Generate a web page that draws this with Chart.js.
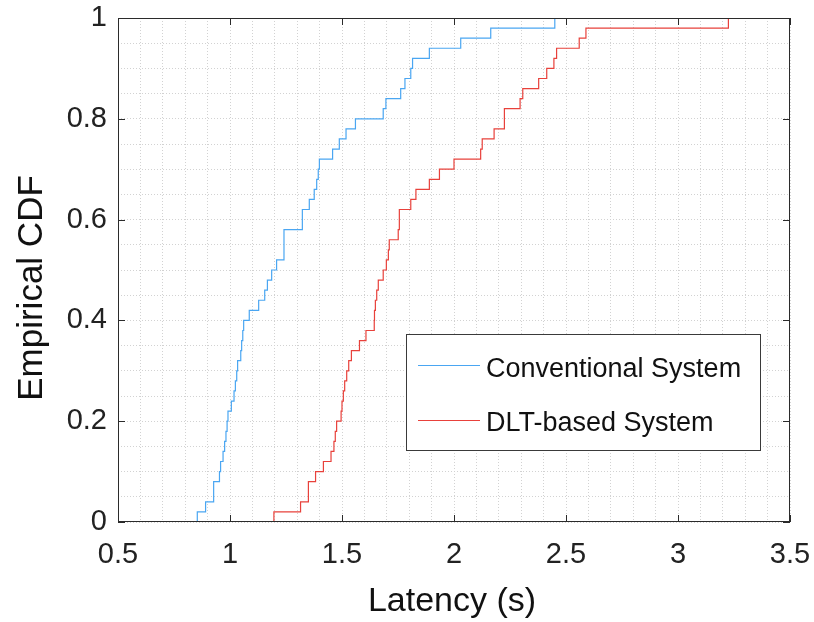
<!DOCTYPE html>
<html>
<head>
<meta charset="utf-8">
<script src="https://cdn.jsdelivr.net/npm/chart.js@4.4.1/dist/chart.umd.min.js"></script>
<style>
  html, body { margin: 0; padding: 0; background: #fff; }
  #wrap { width: 814px; height: 622px; position: relative; }
</style>
</head>
<body>
<div id="wrap"><canvas id="cdf"></canvas></div>
<script>
// ===================== Data =====================
const seriesNames = ["Conventional System", "DLT-based System"];

// CDF level reached at each step (first entry is the start at 0)
const cdfLevels = [
  0, 0.02, 0.04, 0.06, 0.08, 0.1, 0.12, 0.14, 0.16, 0.18, 0.2,
  0.22, 0.24, 0.26, 0.28, 0.3, 0.32, 0.34, 0.36, 0.38, 0.4,
  0.42, 0.44, 0.46, 0.48, 0.5, 0.52, 0.54, 0.56, 0.58, 0.6,
  0.62, 0.64, 0.66, 0.68, 0.7, 0.72, 0.74, 0.76, 0.78, 0.8,
  0.82, 0.84, 0.86, 0.88, 0.9, 0.92, 0.94, 0.96, 0.98, 1
];

// latency (s) where each step happens
const conventionalLatency = [
  0.854, 0.854, 0.891, 0.927, 0.927, 0.953, 0.958, 0.969, 0.976, 0.982, 0.987,
  0.991, 1.006, 1.018, 1.024, 1.030, 1.034, 1.048, 1.052, 1.057, 1.061,
  1.086, 1.128, 1.155, 1.167, 1.186, 1.208, 1.241, 1.241, 1.241, 1.323,
  1.323, 1.354, 1.376, 1.387, 1.394, 1.399, 1.458, 1.488, 1.518, 1.560,
  1.684, 1.696, 1.762, 1.781, 1.807, 1.815, 1.890, 2.030, 2.164, 2.450
];

const dltLatency = [
  1.196, 1.196, 1.315, 1.350, 1.350, 1.382, 1.417, 1.451, 1.464, 1.470, 1.476,
  1.496, 1.500, 1.506, 1.512, 1.521, 1.530, 1.542, 1.578, 1.607, 1.644,
  1.645, 1.649, 1.655, 1.662, 1.684, 1.698, 1.707, 1.711, 1.751, 1.756,
  1.756, 1.807, 1.830, 1.890, 1.935, 2.000, 2.119, 2.126, 2.179, 2.225,
  2.225, 2.295, 2.307, 2.378, 2.414, 2.446, 2.458, 2.559, 2.589, 3.225
];

const xTickLabels = ["0.5", "1", "1.5", "2", "2.5", "3", "3.5"];
const yTickLabels = ["0", "0.2", "0.4", "0.6", "0.8", "1"];

const xTitle = "Latency (s)";
const yTitle = "Empirical CDF";

// ===================== Styling =====================
const FONT = "'Liberation Sans', Arial, Helvetica, sans-serif";
const BLUE = "#4aa6f2";
const RED = "#e8413b";
const AXIS = "#2b2b2b";

const toPoints = (xs) => xs.map((x, i) => ({ x: x, y: cdfLevels[i] }));

const tickText = (list) => (value) => {
  const s = String(+Number(value).toFixed(2));
  return list.includes(s) ? s : "";
};

// box, inward ticks, titles and legend (matlab look)
const matlabFrame = {
  id: "matlabFrame",
  afterDraw(chart) {
    const { ctx, chartArea: a, scales } = chart;
    ctx.save();

    // box
    ctx.strokeStyle = AXIS;
    ctx.lineWidth = 1;
    ctx.strokeRect(a.left + 0.5, a.top + 0.5, a.right - a.left - 1, a.bottom - a.top - 1);

    // inward major ticks
    const len = 7;
    ctx.beginPath();
    xTickLabels.forEach((t) => {
      const px = Math.round(scales.x.getPixelForValue(+t)) + 0.5;
      ctx.moveTo(px, a.bottom);
      ctx.lineTo(px, a.bottom - len);
      ctx.moveTo(px, a.top);
      ctx.lineTo(px, a.top + len);
    });
    yTickLabels.forEach((t) => {
      const py = Math.round(scales.y.getPixelForValue(+t)) + 0.5;
      ctx.moveTo(a.left, py);
      ctx.lineTo(a.left + len, py);
      ctx.moveTo(a.right, py);
      ctx.lineTo(a.right - len, py);
    });
    ctx.stroke();

    // axis titles
    ctx.fillStyle = "#111";
    ctx.textAlign = "center";
    ctx.textBaseline = "alphabetic";
    ctx.font = "34px " + FONT;
    ctx.fillText(xTitle, 452, 611);

    ctx.save();
    ctx.font = "35px " + FONT;
    ctx.translate(42, 288);
    ctx.rotate(-Math.PI / 2);
    ctx.fillText(yTitle, 0, 0);
    ctx.restore();

    // legend
    const lx = 406.5, ly = 334.5, lw = 354, lh = 116;
    ctx.fillStyle = "#fff";
    ctx.fillRect(lx, ly, lw, lh);
    ctx.strokeStyle = "#3a3a3a";
    ctx.strokeRect(lx, ly, lw, lh);

    const rows = [
      { name: seriesNames[0], color: BLUE, y: 365.5, base: 377 },
      { name: seriesNames[1], color: RED, y: 420.5, base: 431 },
    ];
    ctx.textAlign = "left";
    ctx.font = "27px " + FONT;
    rows.forEach((r) => {
      ctx.strokeStyle = r.color;
      ctx.lineWidth = 1.2;
      ctx.beginPath();
      ctx.moveTo(418, r.y);
      ctx.lineTo(480, r.y);
      ctx.stroke();
      ctx.fillStyle = "#111";
      ctx.fillText(r.name, 486, r.base);
    });

    ctx.restore();
  },
};

new Chart(document.getElementById("cdf"), {
  type: "line",
  data: {
    datasets: [
      {
        label: seriesNames[0],
        data: toPoints(conventionalLatency),
        borderColor: BLUE,
        borderWidth: 1.2,
        stepped: "before",
        pointRadius: 0,
        fill: false,
      },
      {
        label: seriesNames[1],
        data: toPoints(dltLatency),
        borderColor: RED,
        borderWidth: 1.2,
        stepped: "before",
        pointRadius: 0,
        fill: false,
      },
    ],
  },
  options: {
    responsive: true,
    maintainAspectRatio: false,
    animation: false,
    layout: { autoPadding: false, padding: { top: 18, right: 24, left: 0, bottom: 0 } },
    plugins: {
      legend: { display: false },
      tooltip: { enabled: false },
    },
    scales: {
      x: {
        type: "linear",
        min: 0.5,
        max: 3.5,
        grid: { color: "#d2d2d2", lineWidth: 1, drawTicks: false },
        border: { display: false, dash: [1, 2] },
        ticks: {
          stepSize: 0.1,
          autoSkip: false,
          maxRotation: 0,
          padding: 16,
          color: "#222",
          font: { family: FONT, size: 29 },
          callback: tickText(xTickLabels),
        },
        // fixed axis band, no extra room asked for edge labels
        afterFit: (s) => {
          s.height = 100;
          s.paddingLeft = 0;
          s.paddingRight = 0;
        },
      },
      y: {
        type: "linear",
        min: 0,
        max: 1,
        grid: { color: "#d2d2d2", lineWidth: 1, drawTicks: false },
        border: { display: false, dash: [1, 2] },
        ticks: {
          stepSize: 0.05,
          autoSkip: false,
          padding: 11,
          color: "#222",
          font: { family: FONT, size: 29 },
          callback: tickText(yTickLabels),
        },
        afterFit: (s) => {
          s.width = 118;
          s.paddingTop = 0;
          s.paddingBottom = 0;
        },
      },
    },
  },
  plugins: [matlabFrame],
});
</script>
</body>
</html>
